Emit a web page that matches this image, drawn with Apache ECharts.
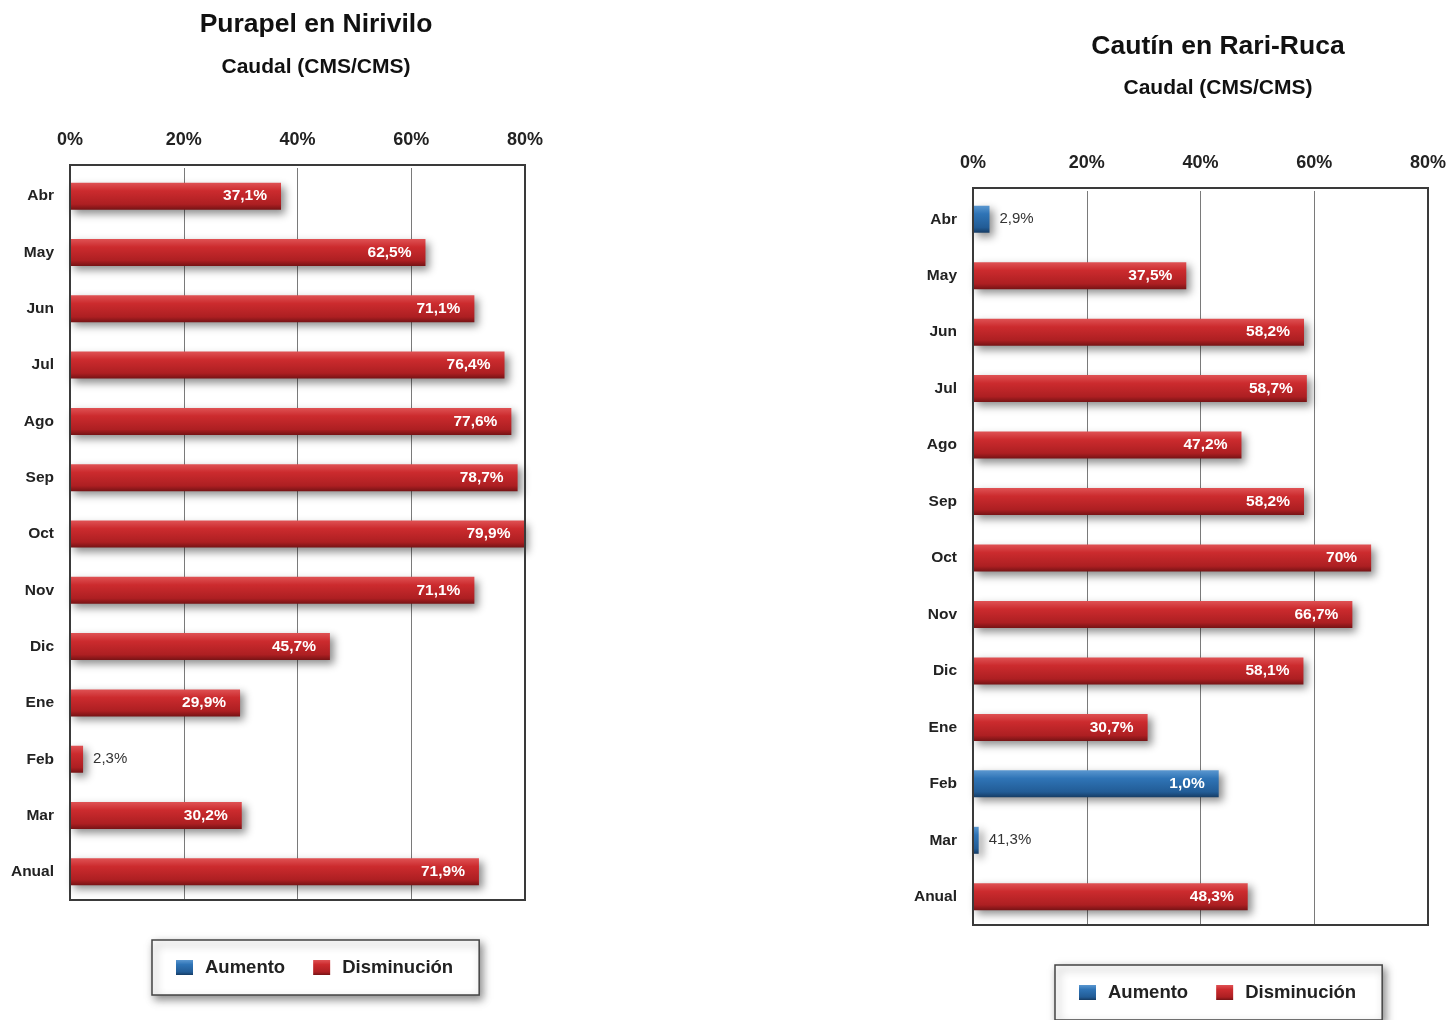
<!DOCTYPE html>
<html><head><meta charset="utf-8">
<script src="https://cdn.jsdelivr.net/npm/echarts@6/dist/echarts.min.js"></script>
<style>html,body{margin:0;padding:0;background:#fff}#c{width:1450px;height:1020px}</style>
</head><body><div id="c"></div>
<script>
var categories = ['Abr','May','Jun','Jul','Ago','Sep','Oct','Nov','Dic','Ene','Feb','Mar','Anual'];
var xTicks = ['0%','20%','40%','60%','80%'];

var leftTitle = 'Purapel en Nirivilo';
var rightTitle = 'Cautín en Rari-Ruca';
var subTitle = 'Caudal (CMS/CMS)';

var leftValues = [37.1,62.5,71.1,76.4,77.6,78.7,79.9,71.1,45.7,29.9,2.3,30.2,71.9];
var leftTypes  = ['D','D','D','D','D','D','D','D','D','D','D','D','D'];
var leftLabels = ['37,1%','62,5%','71,1%','76,4%','77,6%','78,7%','79,9%','71,1%','45,7%','29,9%','2,3%','30,2%','71,9%'];

var rightValues = [2.9,37.5,58.2,58.7,47.2,58.2,70.0,66.7,58.1,30.7,43.2,1.0,48.3];
var rightTypes  = ['A','D','D','D','D','D','D','D','D','D','A','A','D'];
var rightLabels = ['2,9%','37,5%','58,2%','58,7%','47,2%','58,2%','70%','66,7%','58,1%','30,7%','1,0%','41,3%','48,3%'];

var FONT = '"Liberation Sans", Arial, sans-serif';
var redGrad = new echarts.graphic.LinearGradient(0,0,0,1,[
  {offset:0,color:'#df5254'},{offset:0.3,color:'#cc2b2e'},{offset:0.8,color:'#ad1f22'},{offset:1,color:'#761315'}]);
var blueGrad = new echarts.graphic.LinearGradient(0,0,0,1,[
  {offset:0,color:'#5a97d0'},{offset:0.3,color:'#2f74b6'},{offset:0.8,color:'#225c96'},{offset:1,color:'#163c64'}]);

function items(values, types, labels, want) {
  return values.map(function(v,i){
    if (types[i] !== want) return '-';
    var small = v < 5;
    return {
      value: v,
      label: small ? {show:true, position:'right', distance:10, color:'#333', fontWeight:'normal', fontSize:15, fontFamily:FONT, formatter: labels[i]}
                   : {show:true, position:'insideRight', distance:14, color:'#fff', fontWeight:'bold', fontSize:15.5, fontFamily:FONT, formatter: labels[i]}
    };
  });
}

function barSeries(name, gi, data, grad) {
  return {
    name: name, type:'bar', xAxisIndex: gi, yAxisIndex: gi, stack: 's'+gi,
    barWidth: 27, data: data,
    itemStyle: {color: grad, shadowBlur: 8, shadowColor:'rgba(0,0,0,0.45)', shadowOffsetX:4, shadowOffsetY:4},
    emphasis: {disabled:true}
  };
}

function xAxis(gi){
  return {
    gridIndex: gi, type:'value', position:'top', min:0, max:80, interval:20,
    axisLine:{show:false}, axisTick:{show:false},
    splitLine:{show:true, lineStyle:{color:'#7a7a7a', width:1}},
    axisLabel:{margin:19, color:'#222', fontWeight:'bold', fontSize:18, fontFamily:FONT,
      formatter:function(v){ return xTicks[Math.round(v/20)]; }}
  };
}
function yAxis(gi){
  return {
    gridIndex: gi, type:'category', data: categories, inverse:true,
    axisLine:{show:false}, axisTick:{show:false},
    axisLabel:{margin:16, color:'#222', fontWeight:'bold', fontSize:15.5, fontFamily:FONT, verticalAlign:'middle', padding:[0,0,4,0]}
  };
}
function legend(left, top){
  return {
    left:left, top:top, orient:'horizontal', data:['Aumento','Disminución'],
    backgroundColor:'#fff', borderColor:'#444', borderWidth:1.5,
    shadowBlur:8, shadowColor:'rgba(0,0,0,0.45)', shadowOffsetX:3, shadowOffsetY:4,
    padding:[18,26,18,24], itemGap:28, itemWidth:17, itemHeight:15, icon:'rect',
    selectedMode:false,
    textStyle:{color:'#222', fontWeight:'bold', fontSize:18.5, fontFamily:FONT, padding:[0,0,0,7]}
  };
}
function frame(x, y, w, h){
  return {type:'rect', silent:true, z:10, shape:{x:x, y:y, width:w, height:h},
    style:{fill:null, stroke:'#3a3a3a', lineWidth:2}};
}

var chart = echarts.init(document.getElementById('c'), null, {renderer:'canvas'});
chart.setOption({
  animation:false,
  backgroundColor:'#fff',
  title:[
    {text:leftTitle, left:316, top:11, padding:0, textAlign:'center', textStyle:{fontSize:26.5, fontWeight:'bold', color:'#111', fontFamily:FONT}},
    {text:subTitle, left:316, top:57, padding:0, textAlign:'center', textStyle:{fontSize:21, fontWeight:'bold', color:'#111', fontFamily:FONT}},
    {text:rightTitle, left:1218, top:33, padding:0, textAlign:'center', textStyle:{fontSize:26.5, fontWeight:'bold', color:'#111', fontFamily:FONT}},
    {text:subTitle, left:1218, top:78, padding:0, textAlign:'center', textStyle:{fontSize:21, fontWeight:'bold', color:'#111', fontFamily:FONT}}
  ],
  legend:[legend(152,940), legend(1055,965)],
  grid:[
    {left:70, top:168, width:455, height:732, show:false},
    {left:973, top:191, width:455, height:734, show:false}
  ],
  graphic:[frame(70,165,455,735), frame(973,188,455,737)],
  xAxis:[xAxis(0), xAxis(1)],
  yAxis:[yAxis(0), yAxis(1)],
  series:[
    barSeries('Aumento', 0, items(leftValues, leftTypes, leftLabels, 'A'), blueGrad),
    barSeries('Disminución', 0, items(leftValues, leftTypes, leftLabels, 'D'), redGrad),
    barSeries('Aumento', 1, items(rightValues, rightTypes, rightLabels, 'A'), blueGrad),
    barSeries('Disminución', 1, items(rightValues, rightTypes, rightLabels, 'D'), redGrad)
  ]
});
</script></body></html>
